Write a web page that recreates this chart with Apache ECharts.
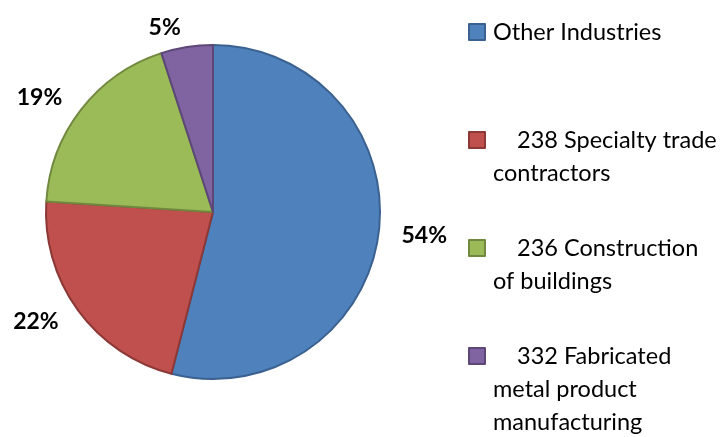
<!DOCTYPE html>
<html>
<head>
    <meta charset="utf-8">
    <title>Pie</title>
    <script src="https://cdn.jsdelivr.net/npm/echarts@6/dist/echarts.min.js"></script>
    <style>
        body { margin: 0; background: #fff; }
    </style>
</head>
<body>
    <div id="main" style="width: 725px;height:437px;"></div>
    <script type="text/javascript">
        // data
        var names = ['Other Industries', '238 Specialty trade contractors', '236 Construction of buildings', '332 Fabricated metal product manufacturing'];
        var values = [54, 22, 19, 5];
        // legend text lines (first line first)
        var legendLines = [
            ['Other Industries'],
            ['    238 Specialty trade', 'contractors'],
            ['    236 Construction', 'of buildings'],
            ['    332 Fabricated', 'metal product', 'manufacturing']
        ];
        var fills = ['#4F81BD', '#C0504D', '#9BBB59', '#8064A2'];
        var borders = ['#3A6190', '#8C3836', '#71893F', '#5C4776'];

        var chartDom = document.getElementById('main');
        var myChart = echarts.init(chartDom);

        var lineH = 33;
        var iconY = [32, 140, 248, 356];

        var seriesData = names.map(function (n, i) {
            return {
                name: n,
                value: values[i],
                itemStyle: { color: fills[i], borderColor: borders[i], borderWidth: 2 }
            };
        });

        // one legend per item so the square sits on the first text line
        var legends = names.map(function (n, i) {
            var lines = legendLines[i];
            var pad = [];
            for (var k = 1; k < lines.length; k++) pad.push('');
            var text = pad.concat(lines).join('\n');
            var h = (lines.length * 2 - 1) * lineH;
            return {
                data: [n],
                orient: 'vertical',
                left: 468,
                top: iconY[i] - h / 2,
                padding: 0,
                icon: 'rect',
                itemWidth: 16,
                itemHeight: 16,
                selectedMode: false,
                formatter: function () { return text; },
                textStyle: {
                    fontFamily: 'Lato',
                    fontSize: 23.5,
                    lineHeight: lineH,
                    color: '#000',
                    padding: [0, 0, 0, 3]
                }
            };
        });

        var option = {
            animation: false,
            legend: legends,
            series: [{
                type: 'pie',
                center: [213, 212],
                radius: 167,
                startAngle: 90,
                clockwise: true,
                avoidLabelOverlap: false,
                data: seriesData,
                label: {
                    show: true,
                    position: 'outside',
                    formatter: '{c}%',
                    fontFamily: 'Lato',
                    fontWeight: 'bold',
                    fontSize: 23,
                    color: '#000',
                    distanceToLabelLine: 3
                },
                labelLine: {
                    show: false,
                    length: 20,
                    length2: 0
                },
                emphasis: { disabled: true }
            }]
        };

        option && myChart.setOption(option);
    </script>
</body>
</html>
